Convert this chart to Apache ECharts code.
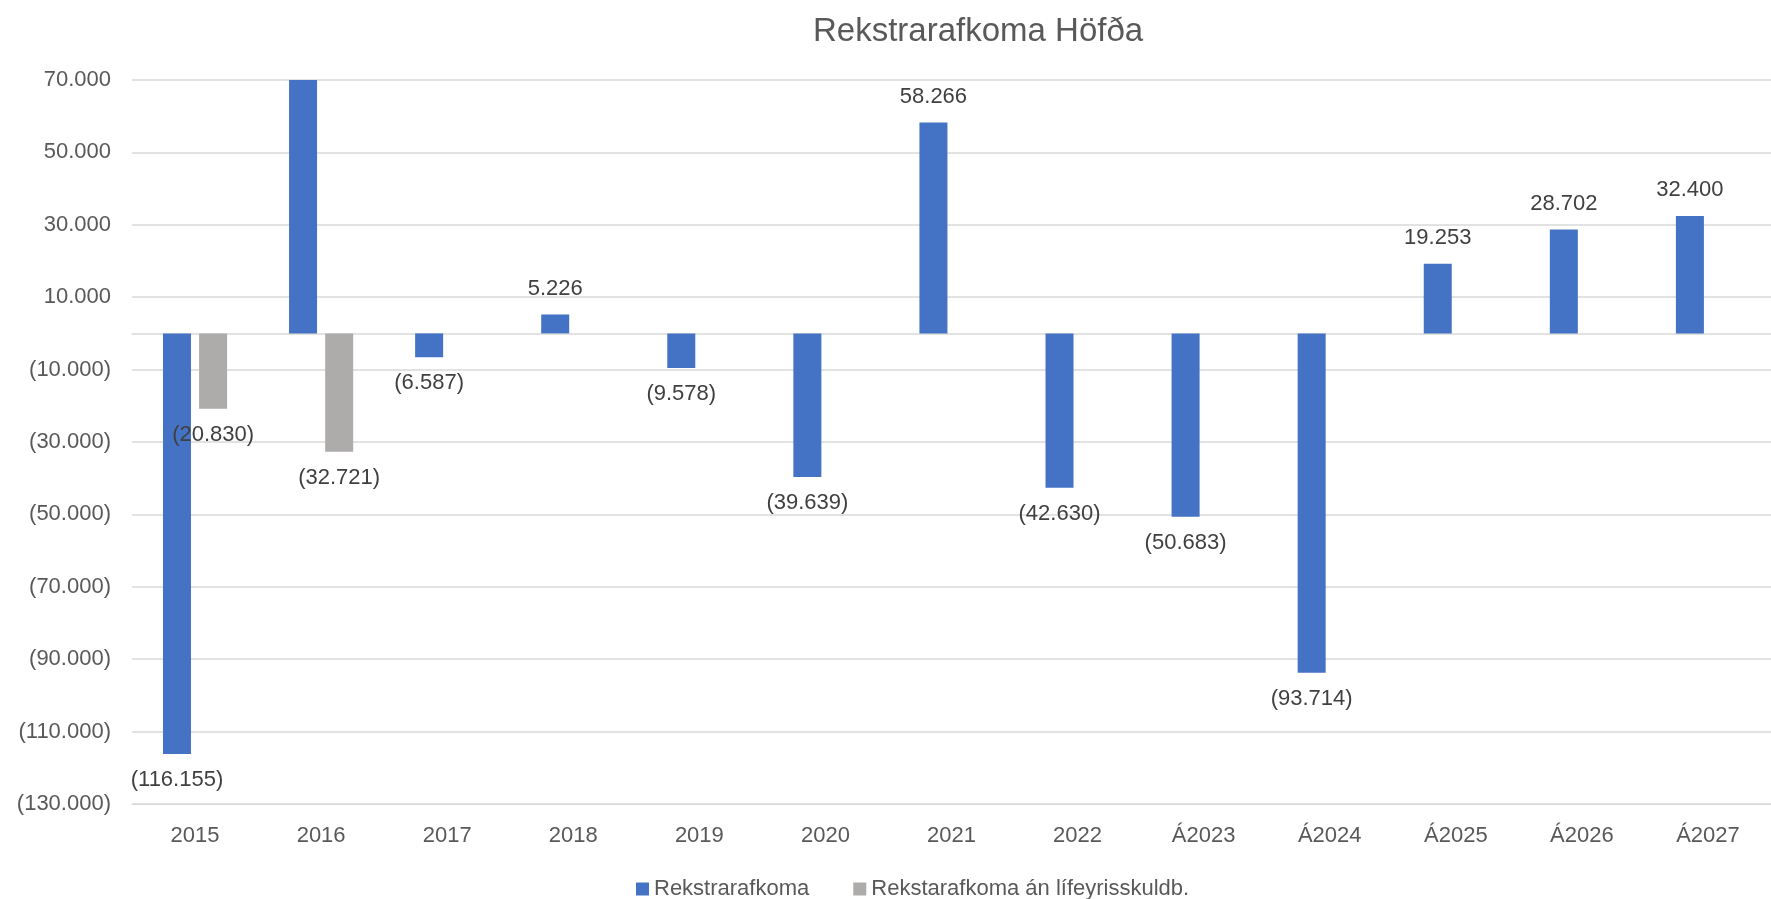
<!DOCTYPE html>
<html>
<head>
<meta charset="utf-8">
<script src="https://cdn.jsdelivr.net/npm/echarts@6/dist/echarts.min.js"></script>
<style>
  html,body{margin:0;padding:0;background:#fff;}
  #chart{width:1771px;height:899px;}
</style>
</head>
<body>
<div id="chart"></div>
<script>
  // gögn lesin af myndinni
  const years = ['2015','2016','2017','2018','2019','2020','2021','2022','Á2023','Á2024','Á2025','Á2026','Á2027'];
  const rekstrarafkoma = [-116155, 75000, -6587, 5226, -9578, -39639, 58266, -42630, -50683, -93714, 19253, 28702, 32400];
  const anLifeyris = [-20830, -32721, null, null, null, null, null, null, null, null, null, null, null];
  const yMin = -130000, yMax = 70000, yStep = 20000;

  const FONT = '"Liberation Sans", Arial, sans-serif';

  /* 1234 -> 1.234, neikvætt í sviga */
  function fmt(v){
    let s = Math.abs(Math.round(v)).toString().replace(/\B(?=(\d{3})+(?!\d))/g, '.');
    return v < 0 ? '(' + s + ')' : s;
  }

  function withLabels(arr){
    return arr.map(v => v == null ? null : {value: v, label: {show: v <= yMax}});
  }

  let chart = echarts.init(document.getElementById('chart'));
  let labelCfg = {
    show: true,
    position: 'outside',
    distance: 15,
    color: '#404040',
    fontSize: 22,
    fontFamily: FONT,
    formatter: p => fmt(p.value)
  };
  let option = {
    animation: false,
    title: {
      text: 'Rekstrarafkoma Höfða',
      left: 808,
      top: 10,
      textStyle: {color: '#595959', fontSize: 33, fontWeight: 'normal', fontFamily: FONT}
    },
    legend: {
      left: 631,
      top: 873,
      itemWidth: 13,
      itemHeight: 13,
      itemGap: 44,
      icon: 'rect',
      textStyle: {color: '#595959', fontSize: 22, fontFamily: FONT},
      data: ['Rekstrarafkoma', 'Rekstarafkoma án lífeyrisskuldb.']
    },
    grid: {left: 132, right: 0, top: 80, bottom: 95},
    xAxis: [
      {
        type: 'category',
        data: years,
        axisLine: {onZero: false, lineStyle: {color: '#d9d9d9'}},
        axisTick: {show: false},
        axisLabel: {color: '#595959', fontSize: 22, fontFamily: FONT, margin: 21}
      },
      {
        // núlllínan
        type: 'category',
        data: years,
        position: 'top',
        axisLine: {onZero: true, lineStyle: {color: '#d9d9d9', width: 1.5}},
        axisTick: {show: false},
        axisLabel: {show: false}
      }
    ],
    yAxis: {
      type: 'value',
      min: yMin,
      max: yMax,
      interval: yStep,
      axisLine: {show: false},
      axisTick: {show: false},
      splitLine: {lineStyle: {color: '#d9d9d9', width: 1.5}},
      axisLabel: {color: '#595959', fontSize: 22, fontFamily: FONT, margin: 21, formatter: v => fmt(v)}
    },
    series: [
      {
        name: 'Rekstrarafkoma',
        type: 'bar',
        data: withLabels(rekstrarafkoma),
        barWidth: 28,
        barGap: '29%',
        clip: true,
        itemStyle: {color: '#4472C4'},
        label: labelCfg
      },
      {
        name: 'Rekstarafkoma án lífeyrisskuldb.',
        type: 'bar',
        data: withLabels(anLifeyris),
        barWidth: 28,
        clip: true,
        itemStyle: {color: '#AEABAB'},
        label: labelCfg
      }
    ]
  };
  chart.setOption(option, true);
</script>
</body>
</html>
